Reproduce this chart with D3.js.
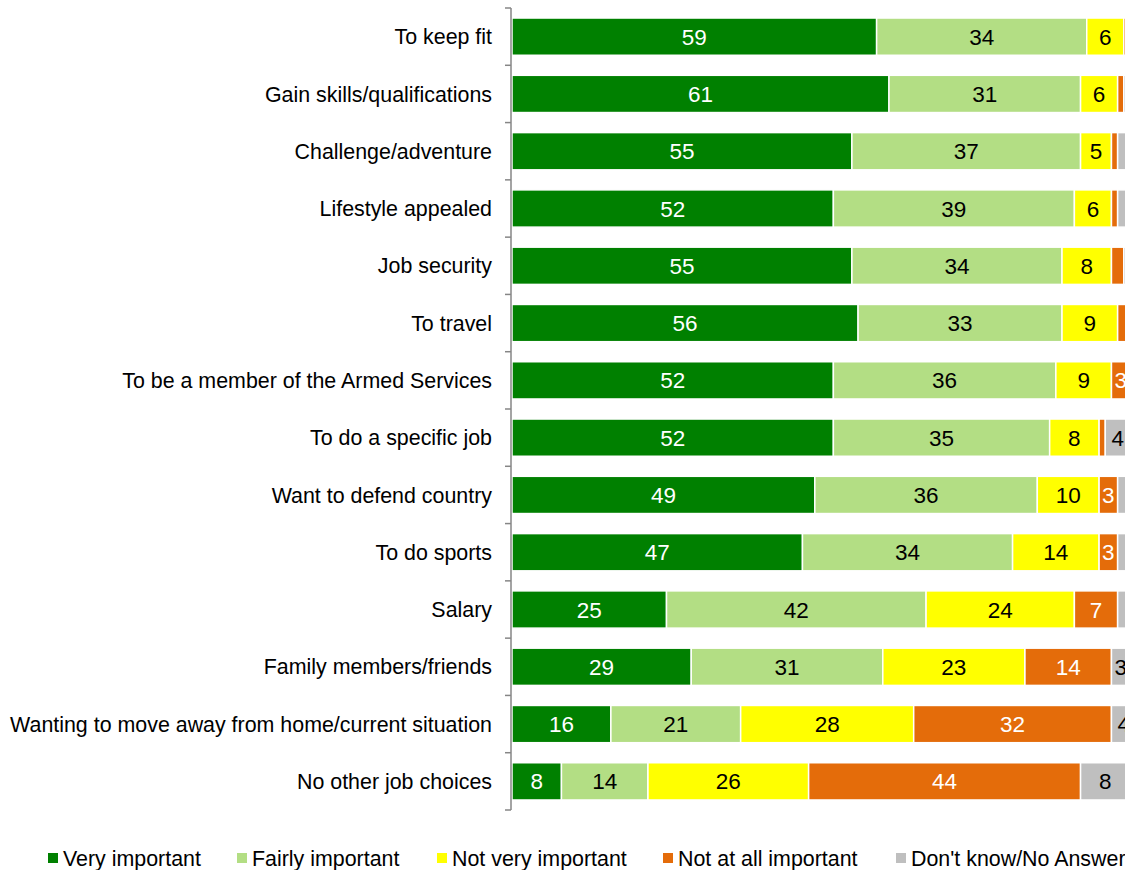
<!DOCTYPE html>
<html>
<head>
<meta charset="utf-8">
<script src="https://cdn.jsdelivr.net/npm/d3@7"></script>
<style>
  body { margin: 0; background: #fff; }
  svg { font-family: "Liberation Sans", Arial, sans-serif; display: block; }
</style>
</head>
<body>
<div id="graphic"></div>
<script>
// categories, top to bottom
var categories = ["To keep fit", "Gain skills/qualifications", "Challenge/adventure", "Lifestyle appealed",
    "Job security", "To travel", "To be a member of the Armed Services", "To do a specific job",
    "Want to defend country", "To do sports", "Salary", "Family members/friends",
    "Wanting to move away from home/current situation", "No other job choices"];

var seriesNames = ["Very important", "Fairly important", "Not very important", "Not at all important", "Don't know/No Answer"];

// one array per series, same order as categories
var veryImportant   = [59, 61, 55, 52, 55, 56, 52, 52, 49, 47, 25, 29, 16, 8];
var fairlyImportant = [34, 31, 37, 39, 34, 33, 36, 35, 36, 34, 42, 31, 21, 14];
var notVery         = [6, 6, 5, 6, 8, 9, 9, 8, 10, 14, 24, 23, 28, 26];
var notAtAll        = [1, 1, 1, 1, 2, 2, 3, 1, 3, 3, 7, 14, 32, 44];
var dontKnow        = [0, 1, 2, 2, 1, 0, 0, 4, 2, 2, 2, 3, 4, 8];

var colors = ["#008000", "#b3de84", "#ffff00", "#e46c0a", "#bfbfbf"];
var textColors = ["#fff", "#000", "#000", "#fff", "#000"];

var allSeries = [veryImportant, fairlyImportant, notVery, notAtAll, dontKnow];

var margin = {top: 8, left: 511},
    width = 618,
    height = 802;

var svg = d3.select("#graphic").append("svg")
    .attr("width", 1125)
    .attr("height", 870);

var canvas = svg.append("g")
    .attr("transform", "translate(" + margin.left + "," + margin.top + ")");

var x = d3.scaleLinear().domain([0, 100]).range([0, width]);

var y = d3.scaleBand()
    .domain(categories)
    .range([0, height])
    .paddingInner(0.35)
    .paddingOuter(0.175);

// build stacked rows
var rows = categories.map(function (c, i) {
    var r = {category: c};
    seriesNames.forEach(function (s, j) { r[s] = allSeries[j][i]; });
    return r;
});
var stacked = d3.stack().keys(seriesNames)(rows);

var layers = canvas.selectAll(".layer")
    .data(stacked)
    .enter()
    .append("g")
    .attr("class", "layer");

layers.selectAll("rect")
    .data(d => d)
    .enter()
    .append("rect")
    .attr("x", d => x(d[0]) + 1)
    .attr("width", d => Math.max(0, x(d[1]) - x(d[0])))
    .attr("y", d => y(d.data.category))
    .attr("height", y.bandwidth())
    .attr("fill", function () { return colors[d3.select(this.parentNode).datum().index]; })
    .attr("stroke", "#fff")
    .attr("stroke-width", 1.5);

// value labels (only for segments wide enough)
layers.each(function (layer) {
    d3.select(this).selectAll("text")
        .data(layer.filter(d => d[1] - d[0] >= 3))
        .enter()
        .append("text")
        .attr("x", d => x((d[0] + d[1]) / 2) + 1)
        .attr("y", d => y(d.data.category) + y.bandwidth() / 2)
        .attr("dy", "0.36em")
        .attr("text-anchor", "middle")
        .attr("font-size", 22.5)
        .attr("fill", textColors[layer.index])
        .text(d => d[1] - d[0]);
});

// y axis: grey line with ticks between categories
var axis = svg.append("g")
    .attr("transform", "translate(" + margin.left + "," + margin.top + ")");
axis.append("line")
    .attr("x1", 0).attr("x2", 0)
    .attr("y1", 0).attr("y2", height)
    .attr("stroke", "#868686").attr("stroke-width", 1.5);
var bounds = categories.map(c => y(c) - y.step() * y.paddingInner() / 2).concat([height]);
bounds[0] = 0;
axis.selectAll(".tick")
    .data(bounds)
    .enter()
    .append("line")
    .attr("x1", -6).attr("x2", 0)
    .attr("y1", d => d).attr("y2", d => d)
    .attr("stroke", "#868686").attr("stroke-width", 1.5);

axis.selectAll(".cat")
    .data(categories)
    .enter()
    .append("text")
    .attr("x", -19)
    .attr("y", d => y(d) + y.bandwidth() / 2)
    .attr("dy", "0.36em")
    .attr("text-anchor", "end")
    .attr("font-size", 21.4)
    .attr("fill", "#000")
    .text(d => d);

// legend
var legendX = [48, 237, 437, 663, 896];
var legend = svg.selectAll(".legend")
    .data(seriesNames)
    .enter()
    .append("g")
    .attr("transform", (d, i) => "translate(" + legendX[i] + ",858)");
legend.append("rect")
    .attr("x", 0).attr("y", -5)
    .attr("width", 10).attr("height", 10)
    .attr("fill", (d, i) => colors[i]);
legend.append("text")
    .attr("x", 15)
    .attr("dy", "0.36em")
    .attr("font-size", 21.4)
    .text(d => d);
</script>
</body>
</html>
